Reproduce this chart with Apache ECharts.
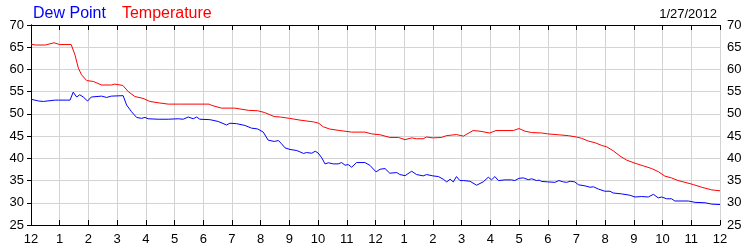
<!DOCTYPE html>
<html>
<head>
<meta charset="utf-8">
<script src="https://cdn.jsdelivr.net/npm/echarts@6/dist/echarts.min.js"></script>
<style>html,body{margin:0;padding:0;background:#fff}#c{width:750px;height:250px}</style>
</head>
<body>
<div id="c"></div>
<script>
var hourLabels = ['12','1','2','3','4','5','6','7','8','9','10','11','12','1','2','3','4','5','6','7','8','9','10','11','12'];
var yTicks = [25,30,35,40,45,50,55,60,65,70];
var dateLabel = '1/27/2012';

var tempHours = [0,0.15,0.5,0.8,1.0,1.4,1.53,1.65,1.76,1.94,2.17,2.46,2.8,2.92,3.2,3.39,3.62,3.9,4.14,4.43,4.78,5.2,6.2,6.3,6.64,7.1,7.57,7.9,8.14,8.47,8.68,9.0,9.37,9.84,10.02,10.18,10.4,10.76,11.17,11.63,11.87,12.16,12.5,12.8,13.03,13.26,13.43,13.66,13.78,14.0,14.3,14.47,14.82,15.06,15.4,15.64,15.98,16.2,16.8,17.0,17.21,17.44,17.79,18.0,18.37,18.72,19.0,19.18,19.41,19.65,19.88,20.05,20.28,20.52,20.75,21.04,21.33,21.62,21.85,22.08,22.31,22.54,22.78,23.07,23.36,23.71,24.0];
var tempValues = [65.7,65.5,65.5,66.0,65.6,65.6,63.3,60.3,58.8,57.5,57.3,56.5,56.5,56.7,56.4,55.0,53.9,53.5,52.8,52.5,52.2,52.2,52.2,51.9,51.3,51.3,50.8,50.7,50.3,49.4,49.3,49.0,48.6,48.2,47.9,47.1,46.6,46.25,45.9,45.9,45.5,45.3,44.7,44.7,44.2,44.6,44.4,44.4,44.8,44.6,44.7,45.1,45.35,45.0,46.25,46.1,45.7,46.25,46.25,46.7,46.1,45.8,45.7,45.5,45.3,45.1,44.8,44.5,43.9,43.5,42.9,42.6,41.7,40.5,39.6,38.9,38.3,37.7,37.0,36.0,35.6,35.0,34.6,34.1,33.5,32.9,32.7];

var dewHours = [0,0.26,0.43,0.49,0.84,0.9,0.96,1.36,1.47,1.59,1.7,1.82,1.97,2.1,2.46,2.63,2.8,3.21,3.33,3.5,3.68,3.85,3.97,4.08,4.43,4.78,5.13,5.3,5.48,5.65,5.77,5.88,6.23,6.52,6.81,6.93,7.16,7.45,7.68,7.9,8.09,8.26,8.47,8.62,8.73,8.85,9.02,9.26,9.37,9.49,9.6,9.78,9.9,10.0,10.13,10.24,10.36,10.53,10.7,10.82,10.94,11.05,11.17,11.34,11.63,11.8,12.02,12.16,12.33,12.5,12.74,12.85,13.03,13.26,13.43,13.66,13.78,14.0,14.19,14.36,14.48,14.6,14.71,14.82,14.94,15.06,15.29,15.52,15.75,15.93,16.04,16.16,16.28,16.51,16.74,16.85,17.0,17.15,17.32,17.44,17.5,17.61,17.7,17.79,18.0,18.25,18.39,18.54,18.66,18.78,18.94,19.07,19.3,19.47,19.59,19.76,19.99,20.17,20.28,20.57,20.86,21.04,21.27,21.5,21.68,21.85,21.97,22.14,22.31,22.43,22.9,23.13,23.48,23.71,24.0];
var dewValues = [53.3,52.9,52.8,53.1,53.1,53.5,53.1,53.1,54.9,53.8,54.3,53.8,52.9,53.8,54.0,53.7,54.0,54.1,52.0,50.5,49.2,49.0,49.2,48.9,48.8,48.8,48.9,48.8,49.3,48.9,49.3,48.8,48.7,48.3,47.5,47.9,47.8,47.4,46.8,46.6,45.9,44.1,43.8,44.0,43.25,42.35,42.0,41.75,41.45,41.1,41.3,41.15,41.6,41.2,40.1,38.75,39.0,38.75,38.75,39.05,38.45,38.6,38.0,39.05,39.05,38.45,36.95,37.55,37.7,36.65,36.8,36.35,36.1,37.1,36.35,36.05,36.35,36.05,35.9,35.3,34.7,35.3,34.7,35.9,35.0,35.0,34.85,33.95,34.7,35.75,35.15,35.9,35.0,35.15,35.15,35.0,35.5,35.6,35.2,35.4,35.7,35.0,35.1,34.8,34.7,34.6,35.0,34.7,34.6,34.85,34.7,34.05,33.8,33.5,33.6,33.1,32.6,32.6,32.2,32.0,31.7,31.3,31.4,31.3,31.9,31.1,31.3,30.9,30.9,30.4,30.4,30.1,30.0,29.7,29.6];

function zip(xs, ys){ var out=[]; for(var i=0;i<xs.length;i++) out.push([xs[i], ys[i]]); return out; }

var font = 'Liberation Sans, Arial, sans-serif';
var chart = echarts.init(document.getElementById('c'), null, {renderer:'canvas'});
var axisLine = {show:true, lineStyle:{color:'#000', width:1}};
var xCommon = {
  type:'value', min:0, max:24, interval:1,
  axisLine: axisLine,
  axisTick: {show:true, inside:true, length:5, lineStyle:{color:'#000'}},
  splitLine: {show:false}
};
option = {
  animation:false,
  title: {text: dateLabel, right: 28, top: 3, textStyle:{fontFamily:font, fontSize:13, fontWeight:'normal', color:'#000'}},
  legend: {
    left: 23, top: 1, itemWidth: 0, itemHeight: 0, itemGap: 11, selectedMode:false,
    textStyle:{fontFamily:font, fontSize:16},
    data:[{name:'Dew Point', icon:'none', textStyle:{color:'#0000ff'}},{name:'Temperature', icon:'none', textStyle:{color:'#ff0000'}}]
  },
  grid: {left:31, right:30, top:25, bottom:25, containLabel:false},
  xAxis: [
    Object.assign({}, xCommon, {position:'bottom',
      splitLine:{show:true, lineStyle:{color:'#d3d3d3', width:1}},
      axisLabel:{show:true, margin:8, fontFamily:font, fontSize:13, color:'#000',
        formatter:function(v){ return hourLabels[Math.round(v)]; }}}),
    Object.assign({}, xCommon, {position:'top', axisLabel:{show:false}})
  ],
  yAxis: [
    {type:'value', min:yTicks[0], max:yTicks[yTicks.length-1], interval:5, position:'left',
      axisLine: axisLine,
      axisTick:{show:true, inside:false, length:4, lineStyle:{color:'#000'}},
      splitLine:{show:true, lineStyle:{color:'#d3d3d3', width:1}},
      axisLabel:{margin:7, fontFamily:font, fontSize:13, color:'#000'}},
    {type:'value', min:yTicks[0], max:yTicks[yTicks.length-1], interval:5, position:'right',
      axisLine: axisLine,
      axisTick:{show:true, inside:true, length:4, lineStyle:{color:'#000'}},
      splitLine:{show:false},
      axisLabel:{margin:7, fontFamily:font, fontSize:13, color:'#000'}}
  ],
  series: [
    {name:'Dew Point', type:'line', data: zip(dewHours, dewValues), showSymbol:false, symbol:'none',
      lineStyle:{color:'#0000ff', width:1}, itemStyle:{color:'#0000ff'}},
    {name:'Temperature', type:'line', data: zip(tempHours, tempValues), showSymbol:false, symbol:'none',
      lineStyle:{color:'#ff0000', width:1}, itemStyle:{color:'#ff0000'}}
  ]
};
chart.setOption(option);
</script>
</body>
</html>
